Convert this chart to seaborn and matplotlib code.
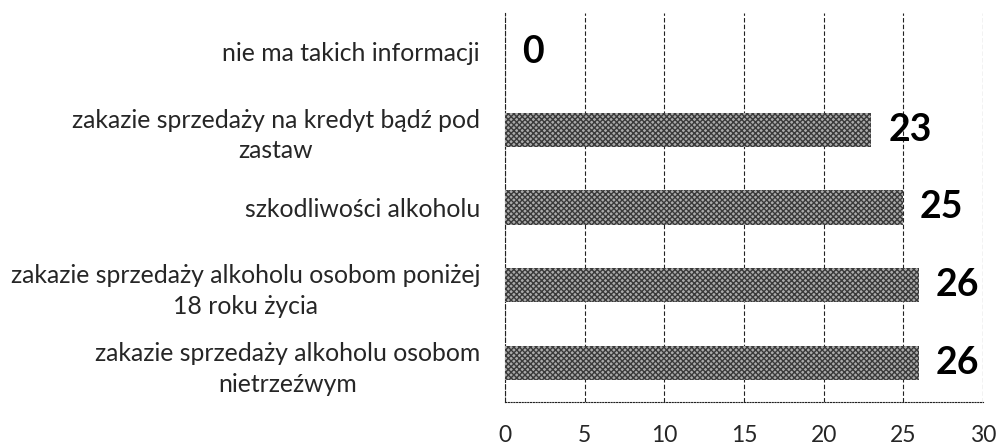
import matplotlib
matplotlib.use("Agg")
import matplotlib.pyplot as plt
import seaborn as sns
import numpy as np
import pandas as pd

# --- Data ---
categories = [
    "nie ma takich informacji",
    "zakazie sprzedaży na kredyt bądź pod\nzastaw",
    "szkodliwości alkoholu",
    "zakazie sprzedaży alkoholu osobom poniżej\n18 roku życia",
    "zakazie sprzedaży alkoholu osobom\nnietrzeźwym",
]
values = [0, 23, 25, 26, 26]
x_ticks = [0, 5, 10, 15, 20, 25, 30]

df = pd.DataFrame({"kategoria": categories, "liczba": values})

# --- Style ---
sns.set_style("white")
plt.rcParams['font.family'] = ['Lato', 'DejaVu Sans']

fig = plt.figure(figsize=(10, 4.47), dpi=100)
ax = fig.add_axes([0.505, 0.101, 0.478, 0.870])

sns.barplot(data=df, x="liczba", y="kategoria", orient="h", ax=ax,
            color="#aaaaaa", width=0.44, saturation=1, zorder=3)
for bar in ax.patches:
    bar.set_hatch("xxxxxx")
    bar.set_edgecolor("#3a3a3a")
    bar.set_linewidth(0)

# value labels
for cont in ax.containers:
    ax.bar_label(cont, labels=[str(v) for v in values], padding=12,
                 fontsize=27, fontweight="bold", color="black")

ax.set_xlim(0, 30)
ax.set_xticks(x_ticks)
ax.set_xticklabels([str(t) for t in x_ticks], fontsize=16.5)
ax.set_xlabel("")
ax.set_ylabel("")

# grid and spines
ax.grid(axis="x", linestyle=(0, (4, 2)), color="#222222", linewidth=0.8)
ax.grid(axis="y", visible=False)
ax.set_axisbelow(True)
for s in ["top", "right"]:
    ax.spines[s].set_visible(False)
ax.spines["left"].set_linestyle((0, (4, 2)))
ax.spines["left"].set_color("#222222")
ax.spines["left"].set_linewidth(0.8)
ax.spines["bottom"].set_linestyle((0, (1, 1.5)))
ax.spines["bottom"].set_color("#222222")
ax.spines["bottom"].set_linewidth(0.8)

# y tick labels: right-aligned, centered multi-line
ax.tick_params(axis="y", which="major", length=0, pad=18)
for lbl in ax.get_yticklabels():
    lbl.set_fontsize(17.8)
    lbl.set_multialignment("center")
    lbl.set_linespacing(1.4)
ax.set_yticks(np.arange(-0.5, len(categories), 1), minor=True)
ax.tick_params(axis="y", which="minor", length=3, color="#555555")
ax.tick_params(axis="x", length=3, pad=14, color="#222222")

plt.savefig("out.png", dpi=100)
